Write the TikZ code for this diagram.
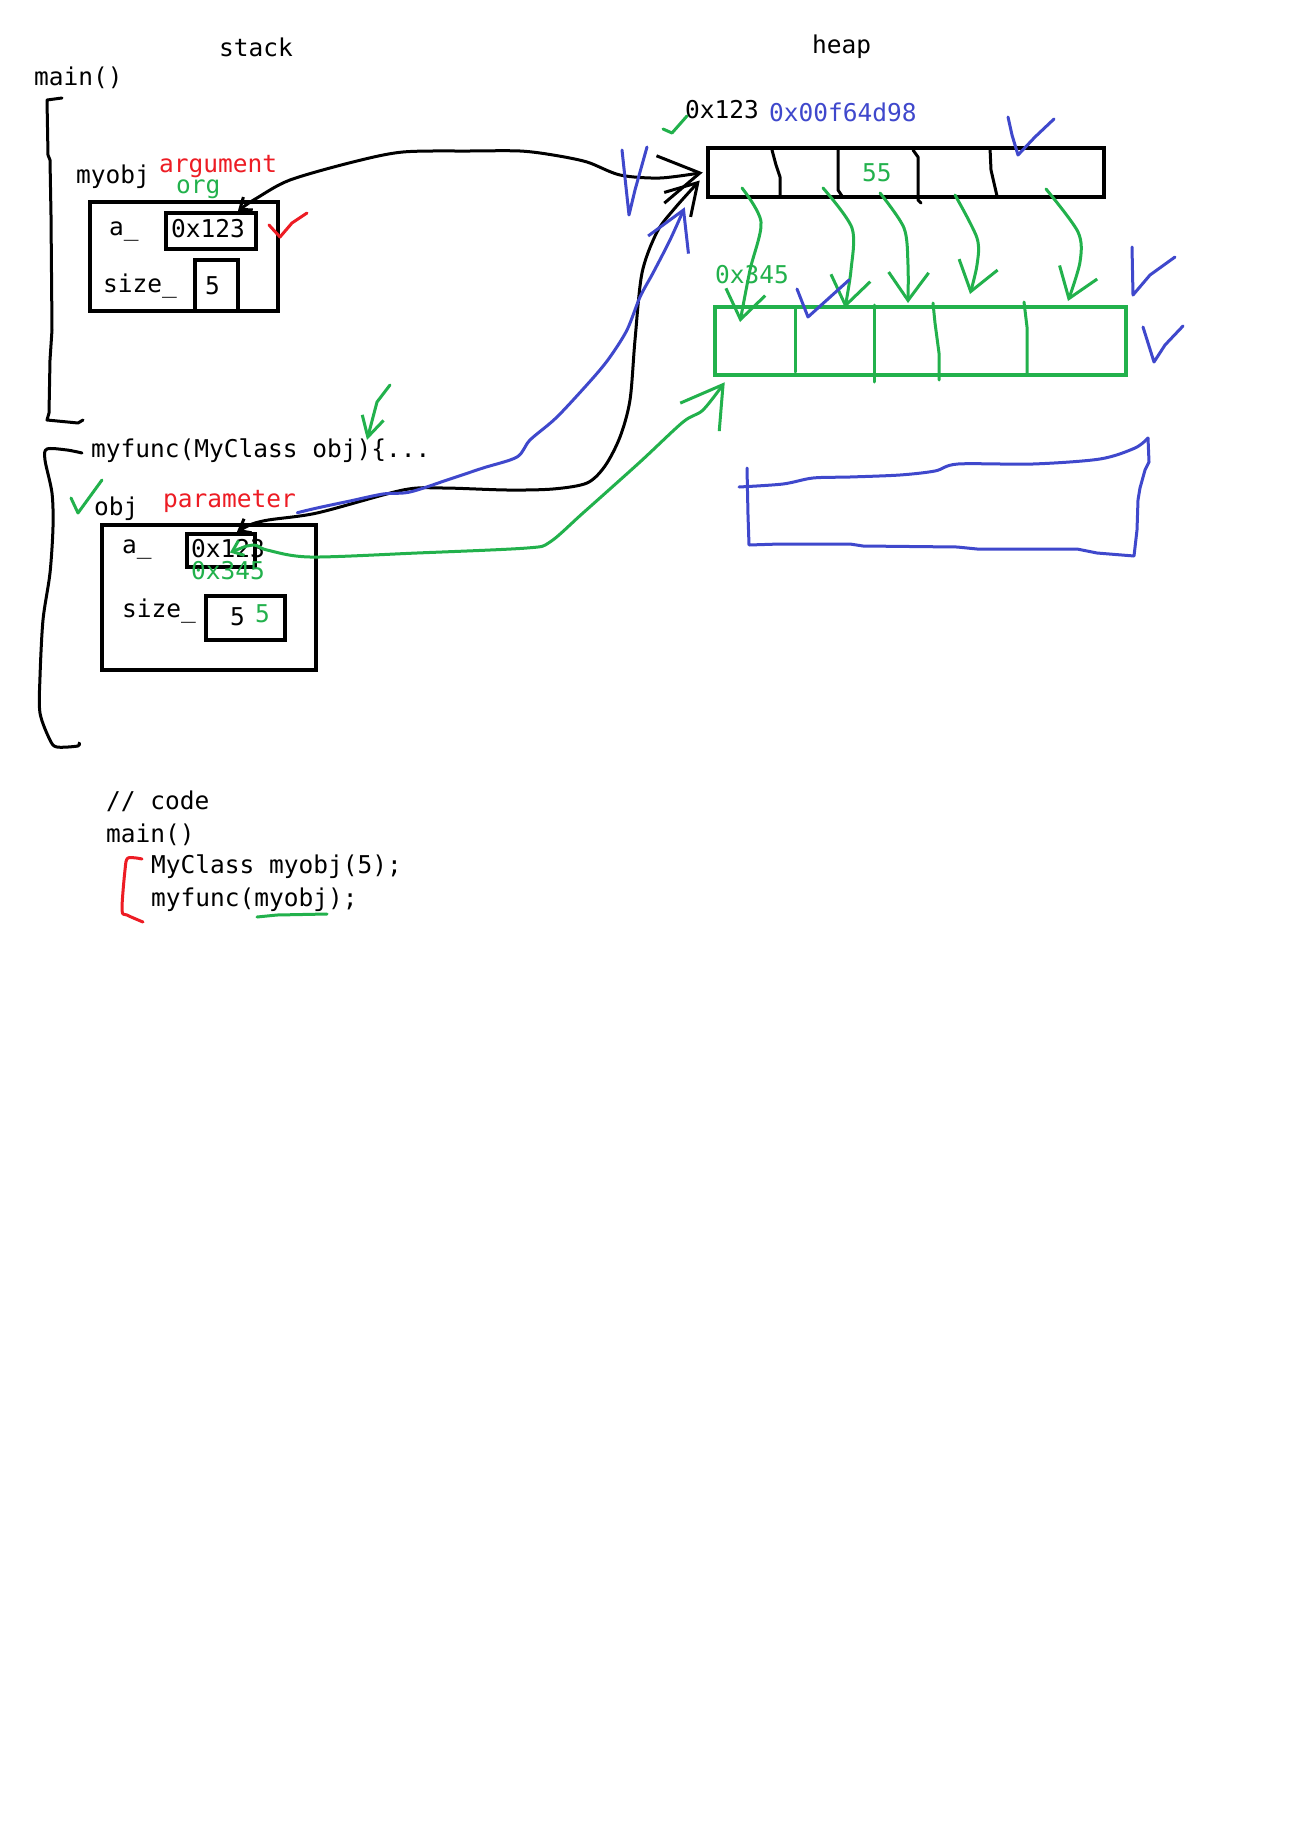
\documentclass[tikz,border=0pt]{standalone}
\usepackage{fontspec}
\newfontfamily\sketchmono{DejaVu Sans Mono}
\usepackage{tikz}
\usetikzlibrary{arrows.meta,positioning}
\usepackage{xcolor}
\definecolor{penred}{RGB}{237,28,36}
\definecolor{pengreen}{RGB}{34,177,76}
\definecolor{penblue}{RGB}{63,72,204}
\tikzset{
  memblock/.style={draw,line width=4.5pt,inner sep=0pt},
  monotext/.style={font=\sketchmono\fontsize{24.5}{29}\selectfont,inner sep=0pt,anchor=base west},
  pen/.style={line width=3pt,line cap=round,line join=round},
  bothheads/.style={{Straight Barb[length=10pt,width=16pt]}-{Straight Barb[length=40pt,width=48pt]}},
  bighead/.style={-{Straight Barb[length=38pt,width=44pt]}},
  cellhead/.style={-{Straight Barb[length=28pt,width=40pt]}},
  markhead/.style={-{Straight Barb[length=20pt,width=22pt]}},
}

\begin{document}
\begin{tikzpicture}[x=1pt,y=-1pt,>={Straight Barb[length=10pt,width=16pt]}]
  \useasboundingbox (0,0) rectangle (1304,1844);
  \fill[white] (0,0) rectangle (1304,1844);

  \node[memblock,minimum width=188pt,minimum height=109pt] (myobj) at (184,256.5) {};
  \node[memblock,minimum width=90pt,minimum height=36pt] (myA) at (211,231) {};
  \node[memblock,minimum width=43pt,minimum height=51pt] (mySize) at (216.5,285.5) {};
  \node[memblock,minimum width=214pt,minimum height=145pt] (obj) at (209,597.5) {};
  \node[memblock,minimum width=68pt,minimum height=33pt] (objA) at (221,550.5) {};
  \node[memblock,minimum width=79pt,minimum height=44pt] (objSize) at (245.5,618) {};
  \node[memblock,minimum width=396pt,minimum height=49pt] (heaparr) at (906,172.5) {};
  \node[memblock,draw=pengreen,minimum width=411pt,minimum height=68pt] (copyarr) at (920.5,341) {};

  \draw[pen] (772,150) -- (776,165) -- (780,177) -- (780,197);
  \draw[pen] (838,150) -- (838,190) -- (842,196);
  \draw[pen] (913,150) -- (918,157) -- (918,200) -- (921,203);
  \draw[pen] (990,148) -- (991,170) -- (997,196);
  \draw[pen,pengreen] (795,307) -- (795,372);
  \draw[pen,pengreen] (874,305) -- (874,382);
  \draw[pen,pengreen] (933,303) -- (935,323) -- (939,353) -- (939,380);
  \draw[pen,pengreen] (1024,302) -- (1027,327) -- (1027,373);

  \node[monotext] (stacklbl) at (219,57) {stack};
  \node[monotext] (heaplbl) at (812,53) {heap};
  \node[monotext] (mainlbl) at (34,85) {main()};
  \node[monotext] (myobjlbl) at (76,183) {myobj};
  \node[monotext,text=penred] (arglbl) at (159,172) {argument};
  \node[monotext,text=pengreen] (orglbl) at (176,193) {org};
  \node[monotext] (myAlbl) at (109,235) {a\_};
  \node[monotext] (myAval) at (171,237) {0x123};
  \node[monotext] (mySizelbl) at (103,292) {size\_};
  \node[monotext] (mySizeval) at (205,294) {5};

  \node[monotext] (funcsig) at (91,457) {myfunc(MyClass obj)\{...};
  \node[monotext] (objlbl) at (94,515) {obj};
  \node[monotext,text=penred] (paramlbl) at (163,507) {parameter};
  \node[monotext] (objAlbl) at (122,553) {a\_};
  \node[monotext] (objAval) at (191,557) {0x123};
  \node[monotext,text=pengreen] (objAnew) at (191,579) {0x345};
  \node[monotext] (objSizelbl) at (122,617) {size\_};
  \node[monotext] (objSizeval) at (230,625) {5};
  \node[monotext,text=pengreen] (objSizenew) at (255,622) {5};

  \node[monotext] (heapaddr) at (685,118) {0x123};
  \node[monotext,text=penblue] (realaddr) at (769,121) {0x00f64d98};
  \node[monotext,text=pengreen] (heapval) at (862,181) {55};
  \node[monotext,text=pengreen] (copyaddr) at (715,283) {0x345};

  \node[monotext] (codecomment) at (106,809) {// code};
  \node[monotext,below=33pt of codecomment.base west,anchor=base west] (codemain) {main()};
  \node[monotext,below right=31pt and 45pt of codemain.base west,anchor=base west] (codeline1) {MyClass myobj(5);};
  \node[monotext,below=33pt of codeline1.base west,anchor=base west] (codeline2) {myfunc(myobj);};

  \draw[pen] (62,98) -- (47,100) -- (48,155) -- (50,160) -- (51,215) -- (52,330) -- (50,360) -- (49,413) -- (47,420) -- (78,423) -- (83,420);
  \draw[pen] plot[smooth] coordinates {(82,453) (67,450) (47,449) (45,460) (52,493) (53,527) (50,573) (43,620) (40,677) (40,713) (50,740) (57,747) (78,746) (79,743)};
  \draw[pen,penred] plot[smooth] coordinates {(142,859) (128,858) (125,870) (122,910) (127,915) (143,922)};
  \draw[pen,pengreen] (257,917) -- (277,915) -- (327,914);

  \draw[pen,penblue] (747,468) -- (748,515) -- (749,545) -- (780,544) -- (850,544) -- (863,546) -- (957,547) -- (977,549) -- (1077,549) -- (1097,553) -- (1134,556) -- (1137,530) -- (1138,500) -- (1140,488) -- (1145,470) -- (1149,462) -- (1148,438);
  \draw[pen,penblue] plot[smooth] coordinates {(739,487) (783,484) (813,478) (850,477) (900,475) (935,471) (958,464) (1033,464) (1100,459) (1135,448) (1148,438)};

  \draw[pen,bothheads] plot[smooth] coordinates {([xshift=27pt]myA.north) (257,198) (290,180) (353,162) (403,152) (470,151) (520,151) (553,155) (587,162) (620,175) (660,178) ([xshift=-3pt]heaparr.west)};
  \draw[pen,{Straight Barb[length=10pt,width=16pt]}-{Straight Barb[length=30pt,width=36pt]}] plot[smooth] coordinates {([xshift=16pt]objA.north) (263,521) (317,513) (403,490) (443,488) (507,490) (553,489) (587,483) (605,466) (620,437) (630,400) (635,340) (642,273) (657,232) (675,208) ([xshift=-6pt,yshift=-8pt]heaparr.west)};
  \coordinate (paramend) at ([xshift=-21pt,yshift=10pt]obj.north east);
  \draw[pen,penblue,bighead] plot[smooth] coordinates {(paramend) (317,508) (350,501) (383,494) (410,492) (450,479) (483,468) (517,457) (530,440) (557,417) (593,378) (610,357) (627,330) (640,297) (653,273) (670,240) ([xshift=-21pt,yshift=-8pt]heaparr.south west)};
  \draw[pen,pengreen,bothheads] plot[smooth] coordinates {([xshift=9pt,yshift=-2pt]objA.center) (253,545) (267,550) (310,557) (417,553) (527,548) (550,542) (583,513) (640,462) (683,422) (703,410) ([xshift=12pt,yshift=-5pt]copyarr.south west)};

  \coordinate (cell1) at (742,188);
  \coordinate (cell2) at (823,188);
  \coordinate (cell3) at (880,193);
  \coordinate (cell4) at (955,195);
  \coordinate (cell5) at (1046,189);
  \coordinate (copy1) at (740,322);
  \coordinate (copy2) at (845,308);
  \coordinate (copy3) at (908,303);
  \coordinate (copy4) at (970,294);
  \coordinate (copy5) at (1068,301);
  \draw[pen,pengreen,cellhead] plot[smooth] coordinates {(cell1) (761,222) (750,270) (copy1)};
  \draw[pen,pengreen,cellhead] plot[smooth] coordinates {(cell2) (852,228) (851,270) (copy2)};
  \draw[pen,pengreen,cellhead] plot[smooth] coordinates {(cell3) (904,228) (908,265) (copy3)};
  \draw[pen,pengreen,cellhead] plot[smooth] coordinates {(cell4) (977,238) (977,265) (copy4)};
  \draw[pen,pengreen,cellhead] plot[smooth] coordinates {(cell5) (1078,232) (1080,262) (copy5)};

  \draw[pen,penred] (269,225) -- (280,237) -- (292,223) -- (307,213);
  \draw[pen,pengreen] (663,129) -- (672,133) -- (687,116);
  \draw[pen,penblue] (622,150) -- (629,215) -- (635,190) -- (647,147);
  \draw[pen,penblue] (1008,117) -- (1012,135) -- (1018,155) -- (1035,137) -- (1054,119);
  \draw[pen,penblue] (797,289) -- (808,317) -- (849,280);
  \draw[pen,penblue] (1132,247) -- (1133,295) -- (1150,275) -- (1175,257);
  \draw[pen,penblue] (1143,327) -- (1154,362) -- (1165,345) -- (1183,326);
  \draw[pen,pengreen] (71,498) -- (78,513) -- (102,480);
  \draw[pen,pengreen,markhead] (390,385) -- (377,402) -- (367,440);
\end{tikzpicture}
\end{document}
